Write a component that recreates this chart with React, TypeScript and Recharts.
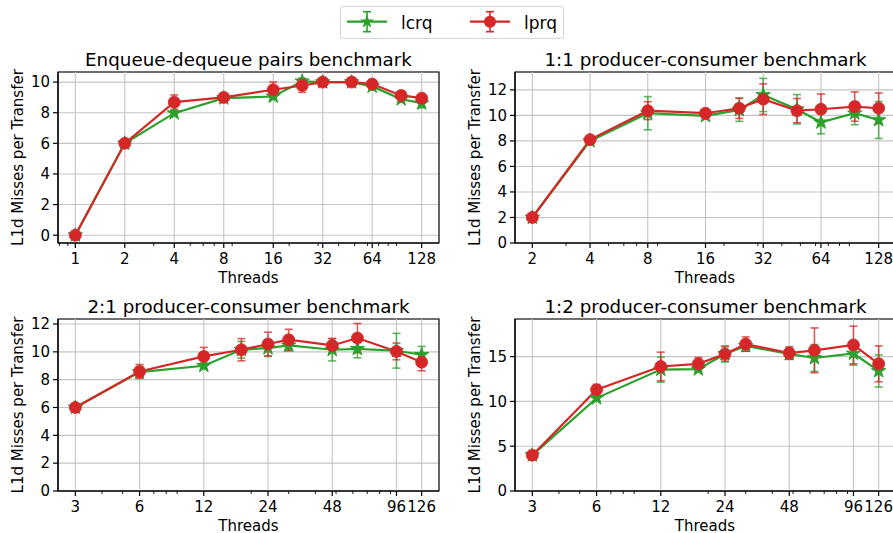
import {
  CartesianGrid,
  ErrorBar,
  Line,
  LineChart,
  ReferenceArea,
  ReferenceLine,
  XAxis,
  YAxis,
} from "recharts";

const GREEN = "#2ca02c";
const RED = "#d62728";
const FONT = "'DejaVu Sans', sans-serif";

// ---- data ----

const pairsThreads = [1, 2, 4, 8, 16, 24, 32, 48, 64, 96, 128];
const pairsLcrq = [0, 6.0, 7.97, 8.95, 9.06, 10.05, 10.0, 10.0, 9.72, 8.89, 8.62];
const pairsLcrqErr = [0.05, 0.1, 0.15, 0.15, 0.2, 0.2, 0.15, 0.15, 0.25, 0.2, 0.3];
const pairsLprq = [0, 6.0, 8.69, 9.0, 9.5, 9.78, 10.0, 10.0, 9.87, 9.13, 8.95];
const pairsLprqErr = [0.05, 0.1, 0.47, 0.15, 0.5, 0.45, 0.2, 0.15, 0.2, 0.2, 0.2];

const pc11Threads = [2, 4, 8, 16, 24, 32, 48, 64, 96, 128];
const pc11Lcrq = [2.0, 8.0, 10.17, 9.96, 10.43, 11.6, 10.48, 9.46, 10.17, 9.64];
const pc11LcrqErr = [0.1, 0.15, 1.3, 0.2, 0.9, 1.3, 1.15, 0.9, 0.9, 1.45];
const pc11Lprq = [2.0, 8.1, 10.37, 10.17, 10.56, 11.27, 10.37, 10.48, 10.69, 10.56];
const pc11LprqErr = [0.1, 0.15, 0.7, 0.2, 0.8, 1.2, 0.95, 1.2, 1.15, 1.2];

const pc21Threads = [3, 6, 12, 18, 24, 30, 48, 63, 96, 126];
const pc21Lcrq = [6.0, 8.54, 9.0, 10.15, 10.27, 10.46, 10.15, 10.22, 10.08, 9.79];
const pc21LcrqErr = [0.1, 0.4, 0.2, 0.6, 0.6, 0.4, 0.8, 0.65, 1.25, 0.6];
const pc21Lprq = [6.0, 8.59, 9.67, 10.15, 10.56, 10.87, 10.46, 10.99, 10.03, 9.26];
const pc21LprqErr = [0.1, 0.5, 0.65, 0.8, 0.85, 0.75, 0.5, 1.05, 0.6, 0.62];

const pc12Threads = [3, 6, 12, 18, 24, 30, 48, 63, 96, 126];
const pc12Lcrq = [4.0, 10.37, 13.55, 13.6, 15.3, 16.2, 15.3, 14.85, 15.35, 13.4];
const pc12LcrqErr = [0.15, 0.3, 1.4, 0.3, 0.9, 0.6, 0.6, 1.5, 1.3, 1.8];
const pc12Lprq = [4.0, 11.3, 13.9, 14.2, 15.3, 16.4, 15.4, 15.7, 16.3, 14.2];
const pc12LprqErr = [0.15, 0.6, 1.6, 0.7, 0.8, 0.8, 0.7, 2.5, 2.1, 2.0];

const pow2Ticks = [1, 2, 4, 8, 16, 32, 64, 128];
const pow2From2Ticks = [2, 4, 8, 16, 32, 64, 128];
const threeTicks = [3, 6, 12, 24, 48, 96, 126];
const minorTicks = [0.8, 0.9, 2, 3, 4, 5, 6, 7, 8, 9, 20, 30, 40, 50, 60, 70, 80, 90, 200];

const yTicks10 = [0, 2, 4, 6, 8, 10];
const yTicks12 = [0, 2, 4, 6, 8, 10, 12];
const yTicks15 = [0, 5, 10, 15];

type PanelSpec = {
  title: string;
  left: number;
  top: number;
  width: number;
  height: number;
  threads: number[];
  lcrq: number[];
  lcrqErr: number[];
  lprq: number[];
  lprqErr: number[];
  xTicks: number[];
  xDomain: [number, number];
  yTicks: number[];
  yDomain: [number, number];
};

const panels: PanelSpec[] = [
  {
    title: "Enqueue-dequeue pairs benchmark",
    left: 58, top: 72, width: 381, height: 171,
    threads: pairsThreads, lcrq: pairsLcrq, lcrqErr: pairsLcrqErr, lprq: pairsLprq, lprqErr: pairsLprqErr,
    xTicks: pow2Ticks, xDomain: [Math.pow(2, -0.35), Math.pow(2, 7.35)],
    yTicks: yTicks10, yDomain: [-0.51, 10.66],
  },
  {
    title: "1:1 producer-consumer benchmark",
    left: 515, top: 72, width: 381, height: 171,
    threads: pc11Threads, lcrq: pc11Lcrq, lcrqErr: pc11LcrqErr, lprq: pc11Lprq, lprqErr: pc11LprqErr,
    xTicks: pow2From2Ticks, xDomain: [Math.pow(2, 0.7), Math.pow(2, 7.3)],
    yTicks: yTicks12, yDomain: [0, 13.4],
  },
  {
    title: "2:1 producer-consumer benchmark",
    left: 58, top: 319, width: 381, height: 172,
    threads: pc21Threads, lcrq: pc21Lcrq, lcrqErr: pc21LcrqErr, lprq: pc21Lprq, lprqErr: pc21LprqErr,
    xTicks: threeTicks, xDomain: [3 * Math.pow(2, -0.27), 126 * Math.pow(2, 0.27)],
    yTicks: yTicks12, yDomain: [0, 12.36],
  },
  {
    title: "1:2 producer-consumer benchmark",
    left: 515, top: 319, width: 381, height: 172,
    threads: pc12Threads, lcrq: pc12Lcrq, lcrqErr: pc12LcrqErr, lprq: pc12Lprq, lprqErr: pc12LprqErr,
    xTicks: threeTicks, xDomain: [3 * Math.pow(2, -0.27), 126 * Math.pow(2, 0.27)],
    yTicks: yTicks15, yDomain: [0, 19.2],
  },
];

// ---- markers ----

function starPoints(cx: number, cy: number, r: number) {
  const pts: string[] = [];
  for (let i = 0; i < 10; i++) {
    const rad = i % 2 === 0 ? r : r * 0.382;
    const a = -Math.PI / 2 + (i * Math.PI) / 5;
    pts.push(`${cx + rad * Math.cos(a)},${cy + rad * Math.sin(a)}`);
  }
  return pts.join(" ");
}

function StarDot(props: any) {
  const { cx, cy, index } = props;
  if (cx == null || cy == null) return null;
  return <polygon key={`s${index}`} points={starPoints(cx, cy, 7.5)} fill={GREEN} stroke={GREEN} strokeWidth={1} />;
}

function CircleDot(props: any) {
  const { cx, cy, index } = props;
  if (cx == null || cy == null) return null;
  return <circle key={`c${index}`} cx={cx} cy={cy} r={6} fill={RED} stroke={RED} strokeWidth={0.8} />;
}

// x ticks: majors get a label and a long tick, minors only a short tick
const TICK_SIZE = 5;
const TICK_MARGIN = 5;

function makeXTick(majors: number[]) {
  return function XTick(props: any) {
    const { x, y, payload } = props;
    const v = payload?.value;
    const axisY = y - TICK_SIZE - TICK_MARGIN;
    const major = majors.includes(v);
    return (
      <g>
        <line
          x1={x}
          x2={x}
          y1={axisY}
          y2={axisY + (major ? 5 : 3)}
          stroke="#000"
          strokeWidth={major ? 1.2 : 0.9}
        />
        {major && (
          <text x={x} y={y} dy="0.71em" textAnchor="middle" fontSize={15} fill="#000">
            {v}
          </text>
        )}
      </g>
    );
  };
}

// ---- one subplot ----

const PAD_L = 60;
const PAD_T = 12;
const PAD_R = 12;
const AXIS_H = 45;

function Panel({ p }: { p: PanelSpec }) {
  const data = p.threads.map((t, i) => ({
    t,
    lcrq: p.lcrq[i],
    lcrqErr: p.lcrqErr[i],
    lprq: p.lprq[i],
    lprqErr: p.lprqErr[i],
  }));
  const minors = minorTicks.filter(
    (v) => v > p.xDomain[0] && v < p.xDomain[1] && !p.xTicks.includes(v)
  );
  const allTicks = [...p.xTicks, ...minors].sort((a, b) => a - b);
  const XTick = makeXTick(p.xTicks);
  return (
    <div style={{ position: "absolute", left: p.left - PAD_L, top: p.top - PAD_T }}>
      <LineChart
        width={p.width + PAD_L + PAD_R}
        height={p.height + PAD_T + AXIS_H}
        data={data}
        margin={{ top: PAD_T, right: PAD_R, left: 0, bottom: 0 }}
      >
        <XAxis
          dataKey="t"
          type="number"
          scale="log"
          domain={p.xDomain}
          allowDataOverflow
          ticks={allTicks}
          interval={0}
          height={AXIS_H}
          tickSize={TICK_SIZE}
          tickMargin={TICK_MARGIN}
          tick={<XTick />}
          axisLine={{ stroke: "#000", strokeWidth: 1.2 }}
          tickLine={false}
        />
        <YAxis
          type="number"
          domain={p.yDomain}
          allowDataOverflow
          ticks={p.yTicks}
          interval={0}
          width={PAD_L}
          tickSize={5}
          tickMargin={3}
          tick={{ fill: "#000", fontSize: 15 }}
          axisLine={{ stroke: "#000", strokeWidth: 1.2 }}
          tickLine={{ stroke: "#000", strokeWidth: 1.2 }}
        />
        <CartesianGrid vertical={false} stroke="#c4c4c4" strokeWidth={1.1} />
        {p.xTicks.map((v) => (
          <ReferenceLine key={v} x={v} stroke="#c4c4c4" strokeWidth={1.1} />
        ))}
        <ReferenceArea
          x1={p.xDomain[0]}
          x2={p.xDomain[1]}
          y1={p.yDomain[0]}
          y2={p.yDomain[1]}
          fill="none"
          fillOpacity={0}
          stroke="#000"
          strokeWidth={1.2}
          ifOverflow="visible"
        />
        <Line
          dataKey="lcrq"
          stroke={GREEN}
          strokeWidth={2.2}
          dot={<StarDot />}
          activeDot={false}
          isAnimationActive={false}
        >
          <ErrorBar dataKey="lcrqErr" width={4} stroke={GREEN} strokeWidth={1.6} strokeOpacity={0.75} direction="y" />
        </Line>
        <Line
          dataKey="lprq"
          stroke={RED}
          strokeWidth={2.2}
          dot={<CircleDot />}
          activeDot={false}
          isAnimationActive={false}
        >
          <ErrorBar dataKey="lprqErr" width={4} stroke={RED} strokeWidth={1.6} strokeOpacity={0.75} direction="y" />
        </Line>
      </LineChart>
    </div>
  );
}

// ---- texts and legend drawn on top ----

function Overlay() {
  return (
    <svg width={893} height={533} style={{ position: "absolute", left: 0, top: 0, pointerEvents: "none" }}>
      {panels.map((p) => {
        const cx = p.left + p.width / 2;
        const cy = p.top + p.height / 2;
        const labelX = p.left - 35;
        return (
          <g key={p.title} fontFamily={FONT} fill="#000">
            <text x={Math.min(cx, 705.5)} y={p.top - 6} textAnchor="middle" fontSize={18.3}>
              {p.title}
            </text>
            <text x={Math.min(cx, 705)} y={p.top + p.height + 39.5} textAnchor="middle" fontSize={15}>
              Threads
            </text>
            <text
              x={labelX}
              y={cy}
              textAnchor="middle"
              fontSize={15}
              transform={`rotate(-90 ${labelX} ${cy})`}
            >
              L1d Misses per Transfer
            </text>
          </g>
        );
      })}
      <rect x={340.5} y={6.5} width={223} height={32} rx={3} fill="#fff" fillOpacity={0.8} stroke="#d3d3d3" />
      <LegendItem x={347} color={GREEN} label="lcrq" star />
      <LegendItem x={470} color={RED} label="lprq" />
    </svg>
  );
}

function LegendItem({ x, color, label, star }: { x: number; color: string; label: string; star?: boolean }) {
  const y = 21.7;
  const mx = x + 20;
  return (
    <g>
      <line x1={x} y1={y} x2={x + 40} y2={y} stroke={color} strokeWidth={2.2} />
      <line x1={mx} y1={y - 10} x2={mx} y2={y + 10} stroke={color} strokeWidth={1.6} />
      <line x1={mx - 4} y1={y - 10} x2={mx + 4} y2={y - 10} stroke={color} strokeWidth={1.6} />
      <line x1={mx - 4} y1={y + 10} x2={mx + 4} y2={y + 10} stroke={color} strokeWidth={1.6} />
      {star ? (
        <polygon points={starPoints(mx, y, 7.5)} fill={color} />
      ) : (
        <circle cx={mx} cy={y} r={6} fill={color} />
      )}
      <text x={x + 54} y={28.5} fontSize={17} fontFamily={FONT} fill="#000">
        {label}
      </text>
    </g>
  );
}

export default function App() {
  return (
    <div
      style={{
        position: "absolute",
        left: 0,
        top: 0,
        width: 893,
        height: 533,
        overflow: "hidden",
        background: "#fff",
        fontFamily: FONT,
      }}
    >
      {panels.map((p) => (
        <Panel key={p.title} p={p} />
      ))}
      <Overlay />
    </div>
  );
}
